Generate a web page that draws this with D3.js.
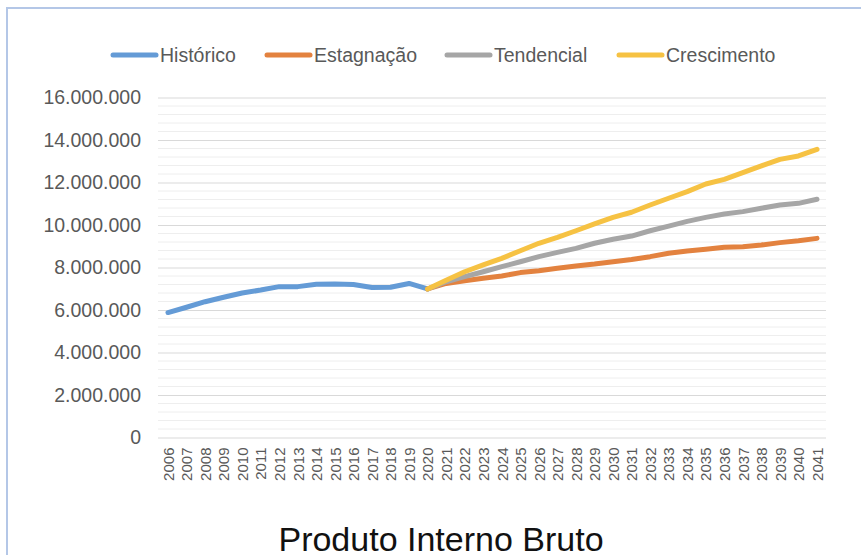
<!DOCTYPE html>
<html>
<head>
<meta charset="utf-8">
<script src="https://cdn.jsdelivr.net/npm/d3@7"></script>
<style>
  body { margin: 0; background: #fff; }
  text { font-family: "Liberation Sans", Arial, sans-serif; }
</style>
</head>
<body>
<div class="container"></div>
<script>
// anos
var anos = [];
for (var a = 2006; a <= 2041; a++) anos.push(String(a));

// PIB historico 2006-2020
var historico = [5880000, 6130000, 6390000, 6600000, 6800000, 6940000, 7100000, 7100000,
                 7210000, 7220000, 7200000, 7060000, 7070000, 7250000, 6990000];

// cenarios 2020-2041
var estagnacao = [6990000, 7250000, 7380000, 7490000, 7600000, 7760000, 7850000, 7960000,
                  8070000, 8160000, 8270000, 8380000, 8510000, 8670000, 8780000, 8860000,
                  8950000, 8980000, 9060000, 9170000, 9260000, 9370000];
var tendencial = [6990000, 7330000, 7570000, 7800000, 8040000, 8270000, 8510000, 8710000,
                  8900000, 9140000, 9330000, 9480000, 9730000, 9950000, 10170000, 10360000,
                  10520000, 10630000, 10790000, 10940000, 11020000, 11210000];
var crescimento = [6990000, 7400000, 7800000, 8120000, 8430000, 8790000, 9140000, 9420000,
                   9730000, 10050000, 10360000, 10600000, 10940000, 11260000, 11570000, 11930000,
                   12150000, 12460000, 12780000, 13090000, 13250000, 13560000];

var yTicks = [0, 2000000, 4000000, 6000000, 8000000, 10000000, 12000000, 14000000, 16000000];

var w = 861, h = 555;
var svg = d3.select(".container").append("svg")
    .attr("width", w).attr("height", h);

// moldura
svg.append("path")
    .attr("d", "M7," + h + "V8H" + w)
    .attr("fill", "none")
    .attr("stroke", "#b4c7e7")
    .attr("stroke-width", 2);

var x = d3.scalePoint().domain(anos).range([168, 817]);
var y = d3.scaleLinear().domain([0, 16000000]).range([437.5, 97.5]);

// grade menor
var menores = d3.range(0, 16000001, 400000).filter(function (v) { return v % 2000000 !== 0; });
svg.selectAll("line.menor").data(menores).enter().append("line")
    .attr("x1", 158).attr("x2", 826)
    .attr("y1", function (d) { return y(d); })
    .attr("y2", function (d) { return y(d); })
    .attr("stroke", "#eeeeee").attr("stroke-width", 1);

// eixo y com grade principal
var fmt = function (d) { return d === 0 ? "0" : d3.format(",")(d).replace(/,/g, "."); };
var eixoY = svg.append("g")
    .attr("transform", "translate(158,0)")
    .call(d3.axisLeft(y).tickValues(yTicks).tickFormat(fmt).tickSize(-668).tickPadding(17));
eixoY.select(".domain").remove();
eixoY.selectAll("line").attr("stroke", "#d9d9d9");
eixoY.selectAll("text").attr("font-size", "19.5px").attr("fill", "#595959")
    .attr("font-family", "Liberation Sans, Arial, sans-serif");

// eixo x
var eixoX = svg.append("g")
    .attr("transform", "translate(0,437.5)")
    .call(d3.axisBottom(x).tickSize(0).tickPadding(10));
eixoX.select(".domain").remove();
eixoX.selectAll("text")
    .attr("font-size", "15px").attr("fill", "#595959")
    .attr("font-family", "Liberation Sans, Arial, sans-serif")
    .attr("text-anchor", "end")
    .attr("dy", "0.35em")
    .attr("transform", "rotate(-90)")
    .attr("x", -10).attr("y", 0);

var series = [
  { nome: "Histórico", cor: "#649bd6", anos: anos.slice(0, 15), vals: historico },
  { nome: "Estagnação", cor: "#e3823f", anos: anos.slice(14), vals: estagnacao },
  { nome: "Tendencial", cor: "#a6a6a6", anos: anos.slice(14), vals: tendencial },
  { nome: "Crescimento", cor: "#f6c243", anos: anos.slice(14), vals: crescimento }
];

var linha = d3.line()
    .x(function (d) { return x(d[0]); })
    .y(function (d) { return y(d[1]); });

series.forEach(function (s) {
  svg.append("path")
      .datum(d3.zip(s.anos, s.vals))
      .attr("d", linha)
      .attr("fill", "none")
      .attr("stroke", s.cor)
      .attr("stroke-width", 5)
      .attr("stroke-linecap", "round")
      .attr("stroke-linejoin", "round");
});

// legenda
var legX = [111, 265, 445, 617];
var leg = svg.selectAll("g.leg").data(series).enter().append("g")
    .attr("transform", function (d, i) { return "translate(" + legX[i] + ",55)"; });
leg.append("line")
    .attr("x1", 2).attr("x2", 45).attr("y1", 0).attr("y2", 0)
    .attr("stroke", function (d) { return d.cor; })
    .attr("stroke-width", 5).attr("stroke-linecap", "round");
leg.append("text")
    .attr("x", 49).attr("y", 7)
    .attr("font-size", "19.5px").attr("fill", "#595959")
    .text(function (d) { return d.nome; });

// titulo
svg.append("text")
    .attr("x", 441).attr("y", 551)
    .attr("text-anchor", "middle")
    .attr("font-size", "34px").attr("fill", "#111")
    .text("Produto Interno Bruto");
</script>
</body>
</html>
